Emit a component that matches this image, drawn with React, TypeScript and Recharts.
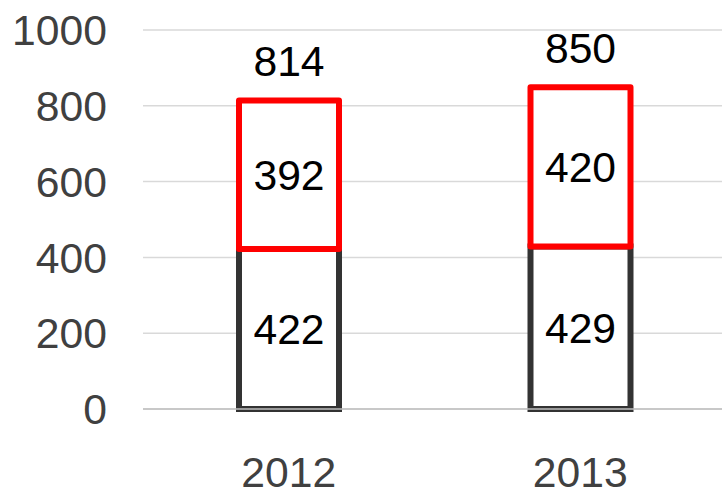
import React from "react";
import { BarChart, Bar, XAxis, YAxis, CartesianGrid, LabelList } from "recharts";

const categories = ["2012", "2013"];
const bottomValues = [422, 429];
const topValues = [392, 420];
const totals = [814, 850];
const yTicks = [0, 200, 400, 600, 800, 1000];

const data = categories.map((c, i) => ({
  name: c,
  bottom: bottomValues[i],
  top: topValues[i],
  total: totals[i],
}));

const FONT = "'Liberation Sans', Arial, sans-serif";
const FS = 42.67;

export default function App() {
  return (
    <div style={{ position: "absolute", left: 0, top: 0, width: 722, height: 489, background: "#fff", overflow: "hidden" }}>
      <BarChart
        width={722}
        height={489}
        data={data}
        margin={{ top: 30, right: -4, bottom: 0, left: 0 }}
        barSize={100}
        style={{ fontFamily: FONT }}
      >
        <CartesianGrid vertical={false} stroke="#d9d9d9" strokeWidth={1.5} />
        <XAxis
          dataKey="name"
          height={80}
          tickSize={0}
          tickMargin={48}
          tickLine={false}
          axisLine={{ stroke: "#bfbfbf", strokeWidth: 1.5 }}
          tick={{ fill: "#404040", fontSize: FS, fontFamily: FONT }}
        />
        <YAxis
          width={143}
          domain={[0, 1000]}
          ticks={yTicks}
          tickSize={0}
          tickMargin={36}
          tickLine={false}
          axisLine={false}
          tick={{ fill: "#404040", fontSize: FS, fontFamily: FONT }}
        />
        <Bar dataKey="bottom" stackId="s" fill="#ffffff" stroke="#333333" strokeWidth={6} isAnimationActive={false}>
          <LabelList dataKey="bottom" position="center" fill="#000000" fontSize={FS} fontFamily={FONT} />
        </Bar>
        <Bar dataKey="top" stackId="s" fill="#ffffff" stroke="#ff0000" strokeWidth={6} strokeLinejoin="round" isAnimationActive={false}>
          <LabelList dataKey="top" position="center" fill="#000000" fontSize={FS} fontFamily={FONT} />
          <LabelList dataKey="total" position="top" offset={24} fill="#000000" fontSize={FS} fontFamily={FONT} />
        </Bar>
      </BarChart>
    </div>
  );
}
